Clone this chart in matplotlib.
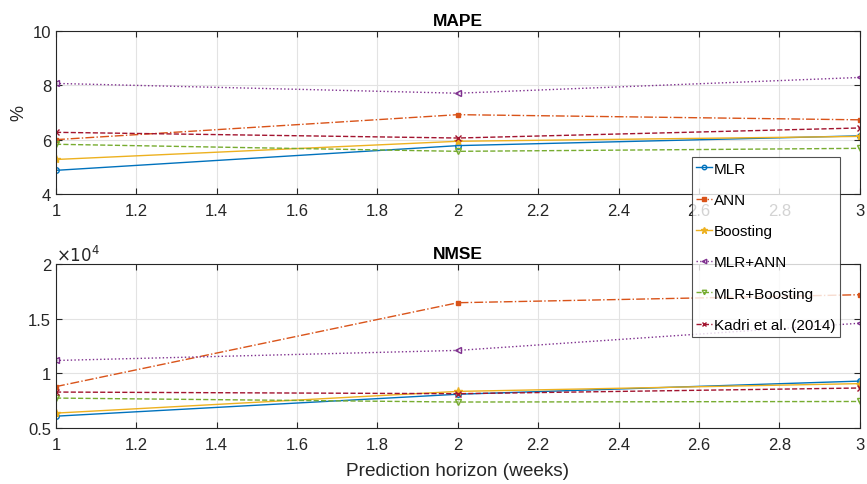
import matplotlib
matplotlib.use('Agg')
import matplotlib.pyplot as plt
import numpy as np

plt.rcParams['font.family'] = ['Liberation Sans', 'DejaVu Sans']

horizon = [1, 2, 3]
names = ['MLR', 'ANN', 'Boosting', 'MLR+ANN', 'MLR+Boosting', 'Kadri et al. (2014)']

mape_mlr = [4.87, 5.78, 6.14]
mape_ann = [6.0, 6.92, 6.73]
mape_boost = [5.27, 5.94, 6.12]
mape_mlr_ann = [8.07, 7.71, 8.29]
mape_mlr_boost = [5.83, 5.57, 5.68]
mape_kadri = [6.27, 6.06, 6.43]

nmse_mlr = [6100, 8100, 9300]
nmse_ann = [8800, 16450, 17180]
nmse_boost = [6380, 8360, 9070]
nmse_mlr_ann = [11180, 12100, 14580]
nmse_mlr_boost = [7750, 7390, 7440]
nmse_kadri = [8300, 8150, 8670]

colors = ['#0072BD', '#D95319', '#EDB120', '#7E2F8E', '#77AC30', '#A2142F']
styles = ['-', '-.', '-', ':', '--', '--']
markers = ['o', 's', '*', '<', 'v', 'x']
sizes = [4, 3, 6, 4, 4, 4]
filled = [False, True, True, False, False, False]

mape = [mape_mlr, mape_ann, mape_boost, mape_mlr_ann, mape_mlr_boost, mape_kadri]
nmse = [nmse_mlr, nmse_ann, nmse_boost, nmse_mlr_ann, nmse_mlr_boost, nmse_kadri]

fig = plt.figure(figsize=(8.67, 4.85), dpi=100)
ax1 = fig.add_axes([0.0646, 0.598, 0.927, 0.336])
ax2 = fig.add_axes([0.0646, 0.115, 0.927, 0.339])


def style_ax(ax):
	ax.grid(True, color='#e3e3e3', linewidth=0.8)
	ax.set_axisbelow(True)
	ax.tick_params(direction='in', top=True, right=True, labelsize=12,
	               colors='#262626', length=4)
	ax.tick_params(axis='x', pad=6.5)
	for s in ax.spines.values():
		s.set_color('#262626')
		s.set_linewidth(0.8)
	ax.set_xlim(1, 3)
	ax.set_xticks(np.arange(1, 3.01, 0.2))
	ax.set_xticklabels(['1', '1.2', '1.4', '1.6', '1.8', '2', '2.2', '2.4', '2.6', '2.8', '3'])


lines = []
for i in range(6):
	mfc = colors[i] if filled[i] else 'none'
	l, = ax1.plot(horizon, mape[i], linestyle=styles[i], color=colors[i], marker=markers[i],
	              markersize=sizes[i], markerfacecolor=mfc, linewidth=1, label=names[i])
	ax2.plot(horizon, nmse[i], linestyle=styles[i], color=colors[i], marker=markers[i],
	         markersize=sizes[i], markerfacecolor=mfc, linewidth=1)
	lines.append(l)

style_ax(ax1)
ax1.set_ylim(4, 10)
ax1.set_yticks([4, 6, 8, 10])
ax1.set_ylabel('%', fontsize=13, color='#262626')
ax1.set_title('MAPE', fontsize=12.5, fontweight='bold', pad=4)

style_ax(ax2)
ax2.set_ylim(5000, 20000)
ax2.set_yticks([5000, 10000, 15000, 20000])
ax2.set_yticklabels(['0.5', '1', '1.5', '2'])
ax2.set_title('NMSE', fontsize=12.5, fontweight='bold', pad=4)
ax2.text(0.0, 1.0, r'$\times 10^4$', transform=ax2.transAxes, fontsize=12,
         color='#262626', va='bottom', ha='left')
ax2.set_xlabel('Prediction horizon (weeks)', fontsize=13.7, color='#262626', labelpad=7)

leg = fig.legend(handles=lines, loc='upper left', bbox_to_anchor=(0.798, 0.674),
                 fontsize=11, frameon=True, fancybox=False, edgecolor='#262626',
                 handlelength=1.0, handletextpad=0.15, labelspacing=1.13, borderpad=0.3,
                 borderaxespad=0, markerscale=0.8)
leg.get_frame().set_linewidth(0.8)

fig.savefig('out.png', dpi=100)
